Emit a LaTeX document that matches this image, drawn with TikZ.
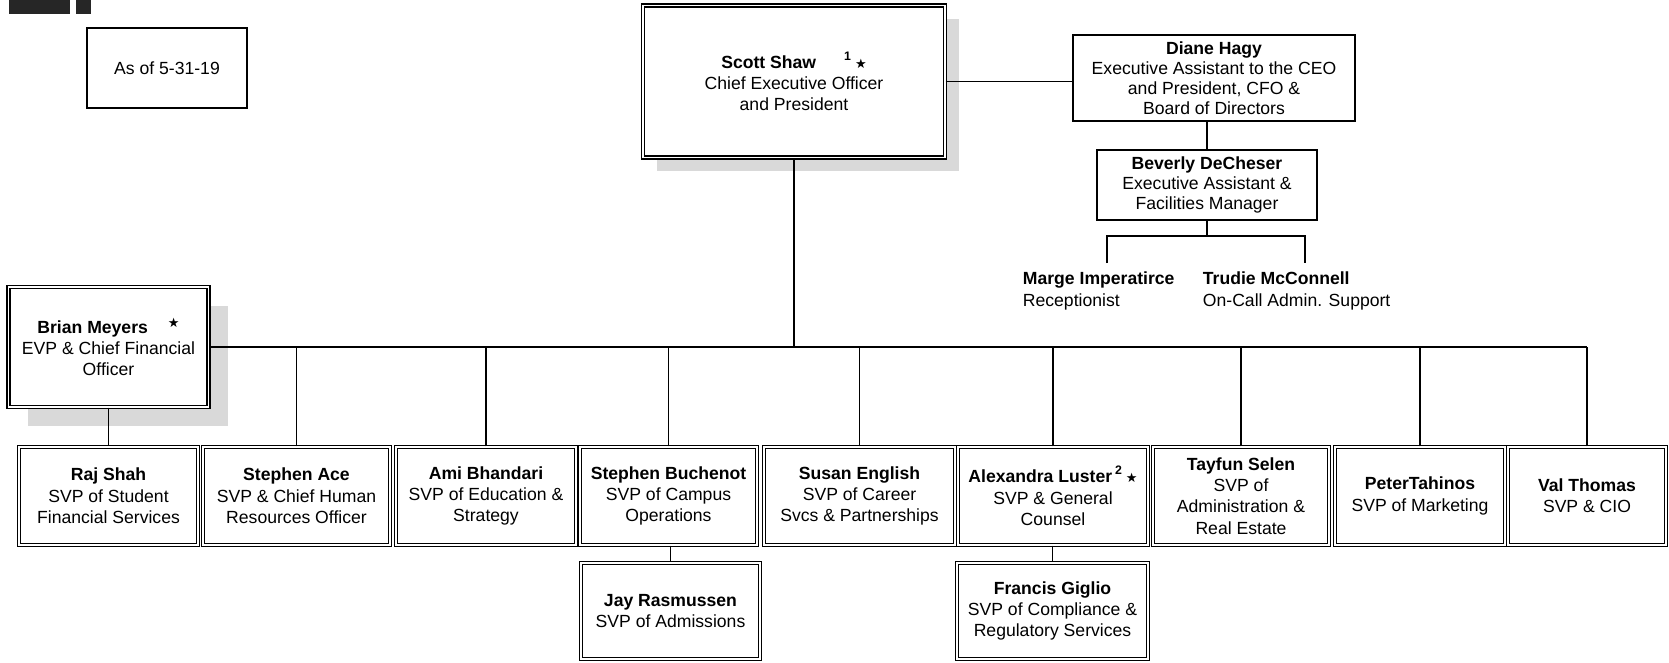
\documentclass[tikz,border=0pt]{standalone}
\usepackage{fontspec}
\setmainfont{Liberation Sans}
\newfontfamily\starfont{DejaVu Sans}
\usetikzlibrary{shadows}
\newcommand{\bstar}{{\starfont\fontsize{6.5}{6.5}\selectfont ★}}
\tikzset{
  chart/.style={x=0.5pt, y=-0.5pt, line width=0.9pt, font=\fontsize{8.8}{10.7}\selectfont},
  plainbox/.style={draw, line width=0.8pt, fill=white, align=center, inner sep=2pt},
  dblbox/.style={draw, line width=0.6pt, double=white, double distance=0.9pt, fill=white, align=center, inner sep=2pt},
  rowbox/.style={dblbox, minimum height=49pt},
  staff/.style={align=left, inner sep=0pt, anchor=north west},
  shade/.style={drop shadow={shadow xshift=#1, shadow yshift=-#1, fill=gray!30, opacity=1}}
}
\begin{document}
\begin{tikzpicture}[chart]
\useasboundingbox (0,0) rectangle (1669,663);
\fill[black!85] (9,0) rectangle (70,14);
\fill[black!85] (76,0) rectangle (91,14);
\node[plainbox, minimum width=80pt, minimum height=40pt] (asof) at (167,68) {As of 5-31-19};
\node[dblbox, shade=7pt, minimum width=151pt, minimum height=76pt] (ceo) at (794,81.5) {\textbf{Scott Shaw}\hspace{14pt}\textsuperscript{\textbf{1}}\,\bstar\\Chief Executive Officer\\and President};
\node[plainbox, inner sep=1pt, minimum width=141pt, minimum height=43pt, font=\fontsize{8.8}{10}\selectfont] (diane) at (1214,78) {\textbf{Diane Hagy}\\Executive Assistant to the CEO\\and President, CFO \&\\Board of Directors};
\node[plainbox, minimum width=110pt, minimum height=35pt, font=\fontsize{8.8}{10}\selectfont] (bev) at (1207,185) {\textbf{Beverly DeCheser}\\Executive Assistant \&\\Facilities Manager};
\node[staff] (marge) at (1022,271) {\textbf{Marge Imperatirce}\\Receptionist};
\node[staff] (trudie) at (1202,271) {\textbf{Trudie McConnell}\\On-Call Admin. Support};
\node[dblbox, shade=9.5pt, minimum width=100pt, minimum height=60pt] (brian) at (108.5,347) {\textbf{Brian Meyers}\hspace{10pt}\raisebox{.6ex}{\bstar}\\EVP \& Chief Financial\\Officer};
\node[rowbox, minimum width=89.5pt] (raj) at (108.5,496) {\textbf{Raj Shah}\\SVP of Student\\Financial Services};
\node[rowbox, minimum width=93.5pt] (ace) at (296.5,496) {\textbf{Stephen Ace}\\SVP \& Chief Human\\Resources Officer};
\node[rowbox, minimum width=90pt] (ami) at (486,496) {\textbf{Ami Bhandari}\\SVP of Education \&\\Strategy};
\node[rowbox, minimum width=88.5pt] (buch) at (668.5,496) {\textbf{Stephen Buchenot}\\SVP of Campus\\Operations};
\node[rowbox, minimum width=95.5pt] (susan) at (859.5,496) {\textbf{Susan English}\\SVP of Career\\Svcs \& Partnerships};
\node[rowbox, minimum width=95pt] (alex) at (1053,496) {\textbf{Alexandra Luster}\,\textsuperscript{\textbf{2}}\,\bstar\\SVP \& General\\Counsel};
\node[rowbox, minimum width=88pt] (tayfun) at (1241,496) {\textbf{Tayfun Selen}\\SVP of\\Administration \&\\Real Estate};
\node[rowbox, minimum width=85pt] (peter) at (1420,496) {\textbf{PeterTahinos}\\SVP of Marketing};
\node[rowbox, minimum width=79pt] (val) at (1587,496) {\textbf{Val Thomas}\\SVP \& CIO};
\node[rowbox, minimum width=89.5pt, minimum height=48pt] (jay) at (670.5,611) {\textbf{Jay Rasmussen}\\SVP of Admissions};
\node[rowbox, minimum width=95.5pt, minimum height=48pt] (francis) at (1052.5,611) {\textbf{Francis Giglio}\\SVP of Compliance \&\\Regulatory Services};
\coordinate (margeup) at (1107,263);
\coordinate (trudieup) at (1305,263);
\draw (ceo.east) -- (ceo.east -| diane.west);
\draw (diane.south -| bev.north) -- (bev.north);
\draw (bev.south) -- ++(0,15) coordinate (split);
\draw (margeup) |- (split) -| (trudieup);
\draw (ceo.south) -- (ceo.south |- brian.east);
\draw (brian.east) -- (brian.east -| val.north);
\draw (brian.south) -- (raj.north);
\foreach \n in {ace,ami,buch,susan,alex,tayfun,peter,val}
  \draw (\n.north) -- (\n.north |- brian.east);
\draw (jay.north |- buch.south) -- (jay.north);
\draw (francis.north |- alex.south) -- (francis.north);
\end{tikzpicture}
\end{document}
